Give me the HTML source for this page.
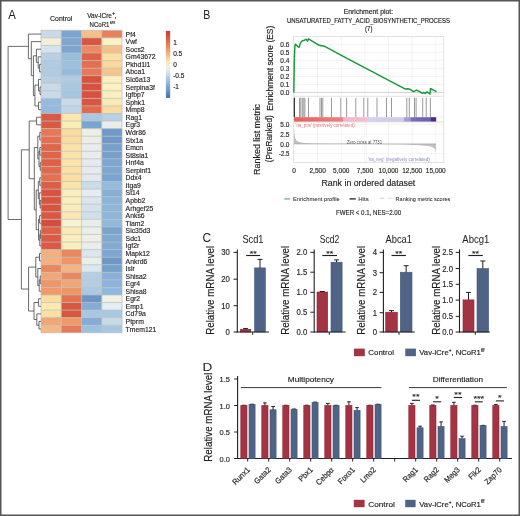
<!DOCTYPE html>
<html><head><meta charset="utf-8"><style>
html,body{margin:0;padding:0;background:#fff;}
svg{display:block;filter:blur(0.3px);}
text{font-family:"Liberation Sans", sans-serif;stroke:#231f20;stroke-width:0.18px;}
</style></head><body>
<svg width="520" height="516" viewBox="0 0 520 516">
<rect x="0" y="0" width="520" height="516" fill="#fff"/>
<text x="8.20" y="19.30" font-size="12.4" fill="#231f20" style="stroke:#231f20;stroke-width:0.04px" textLength="7.61" lengthAdjust="spacingAndGlyphs">A</text>
<text x="50.05" y="20.50" font-size="7.6" fill="#231f20" style="stroke:#231f20;stroke-width:0.16px" textLength="22.30" lengthAdjust="spacingAndGlyphs">Control</text>
<text x="87.3" y="17.9" font-size="7.2" fill="#231f20" textLength="24.6" lengthAdjust="spacingAndGlyphs">Vav-iCre</text>
<text x="112.2" y="15.0" font-size="4.6" fill="#231f20">+</text>
<text x="114.6" y="17.9" font-size="7.2" fill="#231f20">,</text>
<text x="89.6" y="26.9" font-size="7.2" fill="#231f20" textLength="19.8" lengthAdjust="spacingAndGlyphs">NCoR1</text>
<text x="109.9" y="23.6" font-size="4.4" fill="#231f20" textLength="5.0" lengthAdjust="spacingAndGlyphs">f/f</text>
<rect x="41.00" y="30.30" width="20.27" height="7.56" fill="#c8d9e8"/>
<rect x="61.27" y="30.30" width="20.27" height="7.56" fill="#7ca5d0"/>
<rect x="81.54" y="30.30" width="20.27" height="7.56" fill="#f4c08a"/>
<rect x="101.81" y="30.30" width="20.27" height="7.56" fill="#e8805c"/>
<rect x="41.00" y="37.86" width="20.27" height="7.56" fill="#f3efd6"/>
<rect x="61.27" y="37.86" width="20.27" height="7.56" fill="#7ca5d0"/>
<rect x="81.54" y="37.86" width="20.27" height="7.56" fill="#d95540"/>
<rect x="101.81" y="37.86" width="20.27" height="7.56" fill="#f8f2c4"/>
<rect x="41.00" y="45.42" width="20.27" height="7.56" fill="#d5e2ec"/>
<rect x="61.27" y="45.42" width="20.27" height="7.56" fill="#7ca5d0"/>
<rect x="81.54" y="45.42" width="20.27" height="7.56" fill="#eb8a62"/>
<rect x="101.81" y="45.42" width="20.27" height="7.56" fill="#f5c28c"/>
<rect x="41.00" y="52.99" width="20.27" height="7.56" fill="#b8d0e4"/>
<rect x="61.27" y="52.99" width="20.27" height="7.56" fill="#98bede"/>
<rect x="81.54" y="52.99" width="20.27" height="7.56" fill="#e06048"/>
<rect x="101.81" y="52.99" width="20.27" height="7.56" fill="#fbe0a4"/>
<rect x="41.00" y="60.55" width="20.27" height="7.56" fill="#b0cce2"/>
<rect x="61.27" y="60.55" width="20.27" height="7.56" fill="#9cc0de"/>
<rect x="81.54" y="60.55" width="20.27" height="7.56" fill="#e46e50"/>
<rect x="101.81" y="60.55" width="20.27" height="7.56" fill="#fbd99a"/>
<rect x="41.00" y="68.11" width="20.27" height="7.56" fill="#b0cce2"/>
<rect x="61.27" y="68.11" width="20.27" height="7.56" fill="#94bbdc"/>
<rect x="81.54" y="68.11" width="20.27" height="7.56" fill="#e8785a"/>
<rect x="101.81" y="68.11" width="20.27" height="7.56" fill="#f7c48e"/>
<rect x="41.00" y="75.67" width="20.27" height="7.56" fill="#b8d0e4"/>
<rect x="61.27" y="75.67" width="20.27" height="7.56" fill="#b0cce2"/>
<rect x="81.54" y="75.67" width="20.27" height="7.56" fill="#d9503e"/>
<rect x="101.81" y="75.67" width="20.27" height="7.56" fill="#faf0c0"/>
<rect x="41.00" y="83.23" width="20.27" height="7.56" fill="#c8dae8"/>
<rect x="61.27" y="83.23" width="20.27" height="7.56" fill="#a8c8e2"/>
<rect x="81.54" y="83.23" width="20.27" height="7.56" fill="#d8503e"/>
<rect x="101.81" y="83.23" width="20.27" height="7.56" fill="#faf0c0"/>
<rect x="41.00" y="90.80" width="20.27" height="7.56" fill="#cadbe8"/>
<rect x="61.27" y="90.80" width="20.27" height="7.56" fill="#a4c6e0"/>
<rect x="81.54" y="90.80" width="20.27" height="7.56" fill="#d8503e"/>
<rect x="101.81" y="90.80" width="20.27" height="7.56" fill="#faefc0"/>
<rect x="41.00" y="98.36" width="20.27" height="7.56" fill="#94bade"/>
<rect x="61.27" y="98.36" width="20.27" height="7.56" fill="#c8dae8"/>
<rect x="81.54" y="98.36" width="20.27" height="7.56" fill="#d8553f"/>
<rect x="101.81" y="98.36" width="20.27" height="7.56" fill="#faeab4"/>
<rect x="41.00" y="105.92" width="20.27" height="7.56" fill="#94badf"/>
<rect x="61.27" y="105.92" width="20.27" height="7.56" fill="#c0d5e6"/>
<rect x="81.54" y="105.92" width="20.27" height="7.56" fill="#e26a4c"/>
<rect x="101.81" y="105.92" width="20.27" height="7.56" fill="#fbdc9e"/>
<rect x="41.00" y="113.48" width="20.27" height="7.56" fill="#d85a44"/>
<rect x="61.27" y="113.48" width="20.27" height="7.56" fill="#fbe6b0"/>
<rect x="81.54" y="113.48" width="20.27" height="7.56" fill="#a8c8e4"/>
<rect x="101.81" y="113.48" width="20.27" height="7.56" fill="#b8d0e4"/>
<rect x="41.00" y="121.04" width="20.27" height="7.56" fill="#d85a44"/>
<rect x="61.27" y="121.04" width="20.27" height="7.56" fill="#faecb8"/>
<rect x="81.54" y="121.04" width="20.27" height="7.56" fill="#7aa4d0"/>
<rect x="101.81" y="121.04" width="20.27" height="7.56" fill="#ececea"/>
<rect x="41.00" y="128.61" width="20.27" height="7.56" fill="#e67858"/>
<rect x="61.27" y="128.61" width="20.27" height="7.56" fill="#fbdc9e"/>
<rect x="81.54" y="128.61" width="20.27" height="7.56" fill="#eeeee6"/>
<rect x="101.81" y="128.61" width="20.27" height="7.56" fill="#6f9aca"/>
<rect x="41.00" y="136.17" width="20.27" height="7.56" fill="#e47050"/>
<rect x="61.27" y="136.17" width="20.27" height="7.56" fill="#fbdca0"/>
<rect x="81.54" y="136.17" width="20.27" height="7.56" fill="#eceee6"/>
<rect x="101.81" y="136.17" width="20.27" height="7.56" fill="#6e98c8"/>
<rect x="41.00" y="143.73" width="20.27" height="7.56" fill="#e06448"/>
<rect x="61.27" y="143.73" width="20.27" height="7.56" fill="#fbe2aa"/>
<rect x="81.54" y="143.73" width="20.27" height="7.56" fill="#e8ecea"/>
<rect x="101.81" y="143.73" width="20.27" height="7.56" fill="#76a0cc"/>
<rect x="41.00" y="151.29" width="20.27" height="7.56" fill="#e06448"/>
<rect x="61.27" y="151.29" width="20.27" height="7.56" fill="#fbe2aa"/>
<rect x="81.54" y="151.29" width="20.27" height="7.56" fill="#e8ecea"/>
<rect x="101.81" y="151.29" width="20.27" height="7.56" fill="#76a0cc"/>
<rect x="41.00" y="158.85" width="20.27" height="7.56" fill="#de6046"/>
<rect x="61.27" y="158.85" width="20.27" height="7.56" fill="#fbe4ac"/>
<rect x="81.54" y="158.85" width="20.27" height="7.56" fill="#e4eaee"/>
<rect x="101.81" y="158.85" width="20.27" height="7.56" fill="#7ea6d0"/>
<rect x="41.00" y="166.42" width="20.27" height="7.56" fill="#e06a4a"/>
<rect x="61.27" y="166.42" width="20.27" height="7.56" fill="#fbe0a8"/>
<rect x="81.54" y="166.42" width="20.27" height="7.56" fill="#e4eaee"/>
<rect x="101.81" y="166.42" width="20.27" height="7.56" fill="#7ea6d0"/>
<rect x="41.00" y="173.98" width="20.27" height="7.56" fill="#e4704f"/>
<rect x="61.27" y="173.98" width="20.27" height="7.56" fill="#fbdfa2"/>
<rect x="81.54" y="173.98" width="20.27" height="7.56" fill="#e2e8ee"/>
<rect x="101.81" y="173.98" width="20.27" height="7.56" fill="#7aa4d0"/>
<rect x="41.00" y="181.54" width="20.27" height="7.56" fill="#dc5c44"/>
<rect x="61.27" y="181.54" width="20.27" height="7.56" fill="#fbe4aa"/>
<rect x="81.54" y="181.54" width="20.27" height="7.56" fill="#c8dcea"/>
<rect x="101.81" y="181.54" width="20.27" height="7.56" fill="#94bade"/>
<rect x="41.00" y="189.10" width="20.27" height="7.56" fill="#d8543f"/>
<rect x="61.27" y="189.10" width="20.27" height="7.56" fill="#f9efbe"/>
<rect x="81.54" y="189.10" width="20.27" height="7.56" fill="#e6ecee"/>
<rect x="101.81" y="189.10" width="20.27" height="7.56" fill="#86aed6"/>
<rect x="41.00" y="196.66" width="20.27" height="7.56" fill="#d8543f"/>
<rect x="61.27" y="196.66" width="20.27" height="7.56" fill="#f9eebc"/>
<rect x="81.54" y="196.66" width="20.27" height="7.56" fill="#d8e6ee"/>
<rect x="101.81" y="196.66" width="20.27" height="7.56" fill="#8cb4d8"/>
<rect x="41.00" y="204.23" width="20.27" height="7.56" fill="#d8543f"/>
<rect x="61.27" y="204.23" width="20.27" height="7.56" fill="#f9ecbc"/>
<rect x="81.54" y="204.23" width="20.27" height="7.56" fill="#d4e2ec"/>
<rect x="101.81" y="204.23" width="20.27" height="7.56" fill="#8eb6da"/>
<rect x="41.00" y="211.79" width="20.27" height="7.56" fill="#da5842"/>
<rect x="61.27" y="211.79" width="20.27" height="7.56" fill="#fae8b4"/>
<rect x="81.54" y="211.79" width="20.27" height="7.56" fill="#d0e0ea"/>
<rect x="101.81" y="211.79" width="20.27" height="7.56" fill="#8eb6da"/>
<rect x="41.00" y="219.35" width="20.27" height="7.56" fill="#d44e3e"/>
<rect x="61.27" y="219.35" width="20.27" height="7.56" fill="#f6f2d4"/>
<rect x="81.54" y="219.35" width="20.27" height="7.56" fill="#e8ecea"/>
<rect x="101.81" y="219.35" width="20.27" height="7.56" fill="#92b8da"/>
<rect x="41.00" y="226.91" width="20.27" height="7.56" fill="#de6046"/>
<rect x="61.27" y="226.91" width="20.27" height="7.56" fill="#f9eab8"/>
<rect x="81.54" y="226.91" width="20.27" height="7.56" fill="#eaeeea"/>
<rect x="101.81" y="226.91" width="20.27" height="7.56" fill="#7aa4d0"/>
<rect x="41.00" y="234.47" width="20.27" height="7.56" fill="#dc5a44"/>
<rect x="61.27" y="234.47" width="20.27" height="7.56" fill="#f9eebe"/>
<rect x="81.54" y="234.47" width="20.27" height="7.56" fill="#eef0e8"/>
<rect x="101.81" y="234.47" width="20.27" height="7.56" fill="#80a8d0"/>
<rect x="41.00" y="242.04" width="20.27" height="7.56" fill="#dc5a44"/>
<rect x="61.27" y="242.04" width="20.27" height="7.56" fill="#f9eebe"/>
<rect x="81.54" y="242.04" width="20.27" height="7.56" fill="#eaeeea"/>
<rect x="101.81" y="242.04" width="20.27" height="7.56" fill="#82aad2"/>
<rect x="41.00" y="249.60" width="20.27" height="7.56" fill="#f4b080"/>
<rect x="61.27" y="249.60" width="20.27" height="7.56" fill="#ea8660"/>
<rect x="81.54" y="249.60" width="20.27" height="7.56" fill="#dce6ee"/>
<rect x="101.81" y="249.60" width="20.27" height="7.56" fill="#7ea6d0"/>
<rect x="41.00" y="257.16" width="20.27" height="7.56" fill="#f4b080"/>
<rect x="61.27" y="257.16" width="20.27" height="7.56" fill="#ee9468"/>
<rect x="81.54" y="257.16" width="20.27" height="7.56" fill="#eaeee8"/>
<rect x="101.81" y="257.16" width="20.27" height="7.56" fill="#6e98c8"/>
<rect x="41.00" y="264.72" width="20.27" height="7.56" fill="#ea8660"/>
<rect x="61.27" y="264.72" width="20.27" height="7.56" fill="#f4b482"/>
<rect x="81.54" y="264.72" width="20.27" height="7.56" fill="#dce6ee"/>
<rect x="101.81" y="264.72" width="20.27" height="7.56" fill="#76a0cc"/>
<rect x="41.00" y="272.28" width="20.27" height="7.56" fill="#f2a676"/>
<rect x="61.27" y="272.28" width="20.27" height="7.56" fill="#ea8862"/>
<rect x="81.54" y="272.28" width="20.27" height="7.56" fill="#b4cfe4"/>
<rect x="101.81" y="272.28" width="20.27" height="7.56" fill="#88b0d8"/>
<rect x="41.00" y="279.85" width="20.27" height="7.56" fill="#ee9668"/>
<rect x="61.27" y="279.85" width="20.27" height="7.56" fill="#f2a676"/>
<rect x="81.54" y="279.85" width="20.27" height="7.56" fill="#b4cfe4"/>
<rect x="101.81" y="279.85" width="20.27" height="7.56" fill="#8cb4da"/>
<rect x="41.00" y="287.41" width="20.27" height="7.56" fill="#f09a6c"/>
<rect x="61.27" y="287.41" width="20.27" height="7.56" fill="#ee9668"/>
<rect x="81.54" y="287.41" width="20.27" height="7.56" fill="#acc9e2"/>
<rect x="101.81" y="287.41" width="20.27" height="7.56" fill="#90b8dc"/>
<rect x="41.00" y="294.97" width="20.27" height="7.56" fill="#fbde9e"/>
<rect x="61.27" y="294.97" width="20.27" height="7.56" fill="#e47250"/>
<rect x="81.54" y="294.97" width="20.27" height="7.56" fill="#6c96c8"/>
<rect x="101.81" y="294.97" width="20.27" height="7.56" fill="#eff0e6"/>
<rect x="41.00" y="302.53" width="20.27" height="7.56" fill="#faeab2"/>
<rect x="61.27" y="302.53" width="20.27" height="7.56" fill="#d8583f"/>
<rect x="81.54" y="302.53" width="20.27" height="7.56" fill="#84acd4"/>
<rect x="101.81" y="302.53" width="20.27" height="7.56" fill="#e6ecf0"/>
<rect x="41.00" y="310.09" width="20.27" height="7.56" fill="#fbe0a2"/>
<rect x="61.27" y="310.09" width="20.27" height="7.56" fill="#d8583f"/>
<rect x="81.54" y="310.09" width="20.27" height="7.56" fill="#a8c8e2"/>
<rect x="101.81" y="310.09" width="20.27" height="7.56" fill="#a8c8e2"/>
<rect x="41.00" y="317.66" width="20.27" height="7.56" fill="#f2a676"/>
<rect x="61.27" y="317.66" width="20.27" height="7.56" fill="#f09a6a"/>
<rect x="81.54" y="317.66" width="20.27" height="7.56" fill="#84acd6"/>
<rect x="101.81" y="317.66" width="20.27" height="7.56" fill="#c8dae8"/>
<rect x="41.00" y="325.22" width="20.27" height="7.56" fill="#f4b884"/>
<rect x="61.27" y="325.22" width="20.27" height="7.56" fill="#e67a58"/>
<rect x="81.54" y="325.22" width="20.27" height="7.56" fill="#9cc0e0"/>
<rect x="101.81" y="325.22" width="20.27" height="7.56" fill="#a8c8e2"/>
<line x1="41.00" y1="30.30" x2="122.08" y2="30.30" stroke="#bcbcbc" stroke-width="0.7"/>
<line x1="41.00" y1="37.86" x2="122.08" y2="37.86" stroke="#bcbcbc" stroke-width="0.7"/>
<line x1="41.00" y1="45.42" x2="122.08" y2="45.42" stroke="#bcbcbc" stroke-width="0.7"/>
<line x1="41.00" y1="52.99" x2="122.08" y2="52.99" stroke="#bcbcbc" stroke-width="0.7"/>
<line x1="41.00" y1="60.55" x2="122.08" y2="60.55" stroke="#bcbcbc" stroke-width="0.7"/>
<line x1="41.00" y1="68.11" x2="122.08" y2="68.11" stroke="#bcbcbc" stroke-width="0.7"/>
<line x1="41.00" y1="75.67" x2="122.08" y2="75.67" stroke="#bcbcbc" stroke-width="0.7"/>
<line x1="41.00" y1="83.23" x2="122.08" y2="83.23" stroke="#bcbcbc" stroke-width="0.7"/>
<line x1="41.00" y1="90.80" x2="122.08" y2="90.80" stroke="#bcbcbc" stroke-width="0.7"/>
<line x1="41.00" y1="98.36" x2="122.08" y2="98.36" stroke="#bcbcbc" stroke-width="0.7"/>
<line x1="41.00" y1="105.92" x2="122.08" y2="105.92" stroke="#bcbcbc" stroke-width="0.7"/>
<line x1="41.00" y1="113.48" x2="122.08" y2="113.48" stroke="#bcbcbc" stroke-width="0.7"/>
<line x1="41.00" y1="121.04" x2="122.08" y2="121.04" stroke="#bcbcbc" stroke-width="0.7"/>
<line x1="41.00" y1="128.61" x2="122.08" y2="128.61" stroke="#bcbcbc" stroke-width="0.7"/>
<line x1="41.00" y1="136.17" x2="122.08" y2="136.17" stroke="#bcbcbc" stroke-width="0.7"/>
<line x1="41.00" y1="143.73" x2="122.08" y2="143.73" stroke="#bcbcbc" stroke-width="0.7"/>
<line x1="41.00" y1="151.29" x2="122.08" y2="151.29" stroke="#bcbcbc" stroke-width="0.7"/>
<line x1="41.00" y1="158.85" x2="122.08" y2="158.85" stroke="#bcbcbc" stroke-width="0.7"/>
<line x1="41.00" y1="166.42" x2="122.08" y2="166.42" stroke="#bcbcbc" stroke-width="0.7"/>
<line x1="41.00" y1="173.98" x2="122.08" y2="173.98" stroke="#bcbcbc" stroke-width="0.7"/>
<line x1="41.00" y1="181.54" x2="122.08" y2="181.54" stroke="#bcbcbc" stroke-width="0.7"/>
<line x1="41.00" y1="189.10" x2="122.08" y2="189.10" stroke="#bcbcbc" stroke-width="0.7"/>
<line x1="41.00" y1="196.66" x2="122.08" y2="196.66" stroke="#bcbcbc" stroke-width="0.7"/>
<line x1="41.00" y1="204.23" x2="122.08" y2="204.23" stroke="#bcbcbc" stroke-width="0.7"/>
<line x1="41.00" y1="211.79" x2="122.08" y2="211.79" stroke="#bcbcbc" stroke-width="0.7"/>
<line x1="41.00" y1="219.35" x2="122.08" y2="219.35" stroke="#bcbcbc" stroke-width="0.7"/>
<line x1="41.00" y1="226.91" x2="122.08" y2="226.91" stroke="#bcbcbc" stroke-width="0.7"/>
<line x1="41.00" y1="234.47" x2="122.08" y2="234.47" stroke="#bcbcbc" stroke-width="0.7"/>
<line x1="41.00" y1="242.04" x2="122.08" y2="242.04" stroke="#bcbcbc" stroke-width="0.7"/>
<line x1="41.00" y1="249.60" x2="122.08" y2="249.60" stroke="#bcbcbc" stroke-width="0.7"/>
<line x1="41.00" y1="257.16" x2="122.08" y2="257.16" stroke="#bcbcbc" stroke-width="0.7"/>
<line x1="41.00" y1="264.72" x2="122.08" y2="264.72" stroke="#bcbcbc" stroke-width="0.7"/>
<line x1="41.00" y1="272.28" x2="122.08" y2="272.28" stroke="#bcbcbc" stroke-width="0.7"/>
<line x1="41.00" y1="279.85" x2="122.08" y2="279.85" stroke="#bcbcbc" stroke-width="0.7"/>
<line x1="41.00" y1="287.41" x2="122.08" y2="287.41" stroke="#bcbcbc" stroke-width="0.7"/>
<line x1="41.00" y1="294.97" x2="122.08" y2="294.97" stroke="#bcbcbc" stroke-width="0.7"/>
<line x1="41.00" y1="302.53" x2="122.08" y2="302.53" stroke="#bcbcbc" stroke-width="0.7"/>
<line x1="41.00" y1="310.09" x2="122.08" y2="310.09" stroke="#bcbcbc" stroke-width="0.7"/>
<line x1="41.00" y1="317.66" x2="122.08" y2="317.66" stroke="#bcbcbc" stroke-width="0.7"/>
<line x1="41.00" y1="325.22" x2="122.08" y2="325.22" stroke="#bcbcbc" stroke-width="0.7"/>
<line x1="41.00" y1="332.78" x2="122.08" y2="332.78" stroke="#bcbcbc" stroke-width="0.7"/>
<line x1="41.00" y1="30.30" x2="41.00" y2="332.78" stroke="#bcbcbc" stroke-width="0.7"/>
<line x1="61.27" y1="30.30" x2="61.27" y2="332.78" stroke="#bcbcbc" stroke-width="0.7"/>
<line x1="81.54" y1="30.30" x2="81.54" y2="332.78" stroke="#bcbcbc" stroke-width="0.7"/>
<line x1="101.81" y1="30.30" x2="101.81" y2="332.78" stroke="#bcbcbc" stroke-width="0.7"/>
<line x1="122.08" y1="30.30" x2="122.08" y2="332.78" stroke="#bcbcbc" stroke-width="0.7"/>
<text x="125.60" y="36.68" font-size="7.2" fill="#231f20" style="stroke:#231f20;stroke-width:0.16px" textLength="10.27" lengthAdjust="spacingAndGlyphs">Pf4</text>
<text x="125.60" y="44.24" font-size="7.2" fill="#231f20" style="stroke:#231f20;stroke-width:0.16px" textLength="11.40" lengthAdjust="spacingAndGlyphs">Vwf</text>
<text x="125.60" y="51.80" font-size="7.2" fill="#231f20" style="stroke:#231f20;stroke-width:0.16px" textLength="19.01" lengthAdjust="spacingAndGlyphs">Socs2</text>
<text x="125.60" y="59.37" font-size="7.2" fill="#231f20" style="stroke:#231f20;stroke-width:0.16px" textLength="30.04" lengthAdjust="spacingAndGlyphs">Gm43672</text>
<text x="125.60" y="66.93" font-size="7.2" fill="#231f20" style="stroke:#231f20;stroke-width:0.16px" textLength="24.72" lengthAdjust="spacingAndGlyphs">Pkhd1l1</text>
<text x="125.60" y="74.49" font-size="7.2" fill="#231f20" style="stroke:#231f20;stroke-width:0.16px" textLength="19.40" lengthAdjust="spacingAndGlyphs">Abca1</text>
<text x="125.60" y="82.05" font-size="7.2" fill="#231f20" style="stroke:#231f20;stroke-width:0.16px" textLength="24.72" lengthAdjust="spacingAndGlyphs">Slc6a13</text>
<text x="125.60" y="89.61" font-size="7.2" fill="#231f20" style="stroke:#231f20;stroke-width:0.16px" textLength="29.28" lengthAdjust="spacingAndGlyphs">Serpina3f</text>
<text x="125.60" y="97.18" font-size="7.2" fill="#231f20" style="stroke:#231f20;stroke-width:0.16px" textLength="19.02" lengthAdjust="spacingAndGlyphs">Igfbp7</text>
<text x="125.60" y="104.74" font-size="7.2" fill="#231f20" style="stroke:#231f20;stroke-width:0.16px" textLength="19.40" lengthAdjust="spacingAndGlyphs">Sphk1</text>
<text x="125.60" y="112.30" font-size="7.2" fill="#231f20" style="stroke:#231f20;stroke-width:0.16px" textLength="19.00" lengthAdjust="spacingAndGlyphs">Mmp8</text>
<text x="125.60" y="119.86" font-size="7.2" fill="#231f20" style="stroke:#231f20;stroke-width:0.16px" textLength="16.35" lengthAdjust="spacingAndGlyphs">Rag1</text>
<text x="125.60" y="127.42" font-size="7.2" fill="#231f20" style="stroke:#231f20;stroke-width:0.16px" textLength="14.45" lengthAdjust="spacingAndGlyphs">Egr3</text>
<text x="125.60" y="134.99" font-size="7.2" fill="#231f20" style="stroke:#231f20;stroke-width:0.16px" textLength="20.15" lengthAdjust="spacingAndGlyphs">Wdr86</text>
<text x="125.60" y="142.55" font-size="7.2" fill="#231f20" style="stroke:#231f20;stroke-width:0.16px" textLength="17.49" lengthAdjust="spacingAndGlyphs">Stx1a</text>
<text x="125.60" y="150.11" font-size="7.2" fill="#231f20" style="stroke:#231f20;stroke-width:0.16px" textLength="17.48" lengthAdjust="spacingAndGlyphs">Emcn</text>
<text x="125.60" y="157.67" font-size="7.2" fill="#231f20" style="stroke:#231f20;stroke-width:0.16px" textLength="22.82" lengthAdjust="spacingAndGlyphs">St8sia1</text>
<text x="125.60" y="165.24" font-size="7.2" fill="#231f20" style="stroke:#231f20;stroke-width:0.16px" textLength="18.25" lengthAdjust="spacingAndGlyphs">Hnf4a</text>
<text x="125.60" y="172.80" font-size="7.2" fill="#231f20" style="stroke:#231f20;stroke-width:0.16px" textLength="25.48" lengthAdjust="spacingAndGlyphs">Serpinf1</text>
<text x="125.60" y="180.36" font-size="7.2" fill="#231f20" style="stroke:#231f20;stroke-width:0.16px" textLength="15.97" lengthAdjust="spacingAndGlyphs">Ddx4</text>
<text x="125.60" y="187.92" font-size="7.2" fill="#231f20" style="stroke:#231f20;stroke-width:0.16px" textLength="15.21" lengthAdjust="spacingAndGlyphs">Itga9</text>
<text x="125.60" y="195.48" font-size="7.2" fill="#231f20" style="stroke:#231f20;stroke-width:0.16px" textLength="14.07" lengthAdjust="spacingAndGlyphs">St14</text>
<text x="125.60" y="203.05" font-size="7.2" fill="#231f20" style="stroke:#231f20;stroke-width:0.16px" textLength="19.78" lengthAdjust="spacingAndGlyphs">Apbb2</text>
<text x="125.60" y="210.61" font-size="7.2" fill="#231f20" style="stroke:#231f20;stroke-width:0.16px" textLength="27.76" lengthAdjust="spacingAndGlyphs">Arhgef25</text>
<text x="125.60" y="218.17" font-size="7.2" fill="#231f20" style="stroke:#231f20;stroke-width:0.16px" textLength="19.01" lengthAdjust="spacingAndGlyphs">Anks6</text>
<text x="125.60" y="225.73" font-size="7.2" fill="#231f20" style="stroke:#231f20;stroke-width:0.16px" textLength="18.75" lengthAdjust="spacingAndGlyphs">Tiam2</text>
<text x="125.60" y="233.29" font-size="7.2" fill="#231f20" style="stroke:#231f20;stroke-width:0.16px" textLength="24.72" lengthAdjust="spacingAndGlyphs">Slc35d3</text>
<text x="125.60" y="240.86" font-size="7.2" fill="#231f20" style="stroke:#231f20;stroke-width:0.16px" textLength="15.59" lengthAdjust="spacingAndGlyphs">Sdc1</text>
<text x="125.60" y="248.42" font-size="7.2" fill="#231f20" style="stroke:#231f20;stroke-width:0.16px" textLength="13.69" lengthAdjust="spacingAndGlyphs">Igf2r</text>
<text x="125.60" y="255.98" font-size="7.2" fill="#231f20" style="stroke:#231f20;stroke-width:0.16px" textLength="24.33" lengthAdjust="spacingAndGlyphs">Mapk12</text>
<text x="125.60" y="263.54" font-size="7.2" fill="#231f20" style="stroke:#231f20;stroke-width:0.16px" textLength="21.67" lengthAdjust="spacingAndGlyphs">Ankrd6</text>
<text x="125.60" y="271.10" font-size="7.2" fill="#231f20" style="stroke:#231f20;stroke-width:0.16px" textLength="9.12" lengthAdjust="spacingAndGlyphs">Islr</text>
<text x="125.60" y="278.67" font-size="7.2" fill="#231f20" style="stroke:#231f20;stroke-width:0.16px" textLength="20.91" lengthAdjust="spacingAndGlyphs">Shisa2</text>
<text x="125.60" y="286.23" font-size="7.2" fill="#231f20" style="stroke:#231f20;stroke-width:0.16px" textLength="14.45" lengthAdjust="spacingAndGlyphs">Egr4</text>
<text x="125.60" y="293.79" font-size="7.2" fill="#231f20" style="stroke:#231f20;stroke-width:0.16px" textLength="20.91" lengthAdjust="spacingAndGlyphs">Shisa8</text>
<text x="125.60" y="301.35" font-size="7.2" fill="#231f20" style="stroke:#231f20;stroke-width:0.16px" textLength="14.45" lengthAdjust="spacingAndGlyphs">Egr2</text>
<text x="125.60" y="308.91" font-size="7.2" fill="#231f20" style="stroke:#231f20;stroke-width:0.16px" textLength="17.87" lengthAdjust="spacingAndGlyphs">Emp1</text>
<text x="125.60" y="316.48" font-size="7.2" fill="#231f20" style="stroke:#231f20;stroke-width:0.16px" textLength="20.16" lengthAdjust="spacingAndGlyphs">Cd79a</text>
<text x="125.60" y="324.04" font-size="7.2" fill="#231f20" style="stroke:#231f20;stroke-width:0.16px" textLength="18.24" lengthAdjust="spacingAndGlyphs">Ptprm</text>
<text x="125.60" y="331.60" font-size="7.2" fill="#231f20" style="stroke:#231f20;stroke-width:0.16px" textLength="30.79" lengthAdjust="spacingAndGlyphs">Tmem121</text>
<path d="M28.40,34.08L41.00,34.08M31.30,41.64L41.00,41.64M36.40,49.20L41.00,49.20M38.20,56.77L41.00,56.77M39.60,64.33L41.00,64.33M39.60,71.89L41.00,71.89M39.60,64.33L39.60,71.89M38.20,68.11L39.60,68.11M38.20,56.77L38.20,68.11M36.40,62.44L38.20,62.44M36.40,49.20L36.40,62.44M33.40,55.82L36.40,55.82M38.50,79.45L41.00,79.45M40.00,87.02L41.00,87.02M40.00,94.58L41.00,94.58M40.00,87.02L40.00,94.58M38.50,90.80L40.00,90.80M38.50,79.45L38.50,90.80M34.90,85.12L38.50,85.12M38.50,102.14L41.00,102.14M38.50,109.70L41.00,109.70M38.50,102.14L38.50,109.70M34.90,105.92L38.50,105.92M34.90,85.12L34.90,105.92M33.40,95.52L34.90,95.52M33.40,55.82L33.40,95.52M31.30,75.67L33.40,75.67M31.30,41.64L31.30,75.67M28.40,58.66L31.30,58.66M28.40,34.08L28.40,58.66M8.10,46.37L28.40,46.37M36.60,117.26L41.00,117.26M36.60,124.83L41.00,124.83M36.60,117.26L36.60,124.83M29.20,121.04L36.60,121.04M39.80,132.39L41.00,132.39M39.80,139.95L41.00,139.95M39.80,132.39L39.80,139.95M37.80,136.17L39.80,136.17M39.80,147.51L41.00,147.51M39.80,155.07L41.00,155.07M39.80,147.51L39.80,155.07M39.00,151.29L39.80,151.29M40.20,162.64L41.00,162.64M40.20,170.20L41.00,170.20M40.20,162.64L40.20,170.20M39.00,166.42L40.20,166.42M39.00,151.29L39.00,166.42M37.80,158.85L39.00,158.85M37.80,136.17L37.80,158.85M34.30,147.51L37.80,147.51M39.80,177.76L41.00,177.76M39.80,185.32L41.00,185.32M39.80,177.76L39.80,185.32M38.30,181.54L39.80,181.54M39.30,192.88L41.00,192.88M40.20,200.45L41.00,200.45M40.20,208.01L41.00,208.01M40.20,200.45L40.20,208.01M39.30,204.23L40.20,204.23M39.30,192.88L39.30,204.23M38.30,198.55L39.30,198.55M38.30,181.54L38.30,198.55M36.20,190.05L38.30,190.05M39.60,215.57L41.00,215.57M39.60,223.13L41.00,223.13M39.60,215.57L39.60,223.13M38.60,219.35L39.60,219.35M40.30,230.69L41.00,230.69M40.30,238.26L41.00,238.26M40.30,230.69L40.30,238.26M39.80,234.47L40.30,234.47M39.80,245.82L41.00,245.82M39.80,234.47L39.80,245.82M38.60,240.15L39.80,240.15M38.60,219.35L38.60,240.15M36.20,229.75L38.60,229.75M36.20,190.05L36.20,229.75M34.30,209.90L36.20,209.90M34.30,147.51L34.30,209.90M29.20,178.70L34.30,178.70M29.20,121.04L29.20,178.70M21.40,149.87L29.20,149.87M39.50,253.38L41.00,253.38M39.50,260.94L41.00,260.94M39.50,253.38L39.50,260.94M35.80,257.16L39.50,257.16M37.80,268.50L41.00,268.50M40.20,276.06L41.00,276.06M40.20,283.63L41.00,283.63M40.20,276.06L40.20,283.63M39.20,279.85L40.20,279.85M39.20,291.19L41.00,291.19M39.20,279.85L39.20,291.19M37.80,285.52L39.20,285.52M37.80,268.50L37.80,285.52M35.80,277.01L37.80,277.01M35.80,257.16L35.80,277.01M28.60,267.09L35.80,267.09M38.60,298.75L41.00,298.75M38.60,306.31L41.00,306.31M38.60,298.75L38.60,306.31M34.00,302.53L38.60,302.53M36.80,313.88L41.00,313.88M39.00,321.44L41.00,321.44M39.00,329.00L41.00,329.00M39.00,321.44L39.00,329.00M36.80,325.22L39.00,325.22M36.80,313.88L36.80,325.22M34.00,319.55L36.80,319.55M34.00,302.53L34.00,319.55M28.60,311.04L34.00,311.04M28.60,267.09L28.60,311.04M21.40,289.06L28.60,289.06M21.40,149.87L21.40,289.06M8.10,219.47L21.40,219.47M8.10,46.37L8.10,219.47" stroke="#3a3a3a" stroke-width="0.75" fill="none"/>
<defs><linearGradient id="cb" x1="0" y1="0" x2="0" y2="1">
<stop offset="0" stop-color="#c0403a"/>
<stop offset="0.10" stop-color="#d45a46"/>
<stop offset="0.22" stop-color="#e8845c"/>
<stop offset="0.33" stop-color="#f4b07a"/>
<stop offset="0.42" stop-color="#f8d898"/>
<stop offset="0.47" stop-color="#f8ecbc"/>
<stop offset="0.54" stop-color="#eef0e4"/>
<stop offset="0.62" stop-color="#d4e4ee"/>
<stop offset="0.72" stop-color="#a8c8e0"/>
<stop offset="0.85" stop-color="#78a2cc"/>
<stop offset="1" stop-color="#4872ac"/>
</linearGradient></defs>
<rect x="165.90" y="30.90" width="4.30" height="67.00" fill="url(#cb)"/>
<text x="173.20" y="44.60" font-size="7.0" fill="#231f20" style="stroke:#231f20;stroke-width:0.16px" textLength="3.62" lengthAdjust="spacingAndGlyphs">1</text>
<text x="173.20" y="55.70" font-size="7.0" fill="#231f20" style="stroke:#231f20;stroke-width:0.16px" textLength="9.05" lengthAdjust="spacingAndGlyphs">0.5</text>
<text x="173.20" y="66.70" font-size="7.0" fill="#231f20" style="stroke:#231f20;stroke-width:0.16px" textLength="3.62" lengthAdjust="spacingAndGlyphs">0</text>
<text x="173.20" y="77.90" font-size="7.0" fill="#231f20" style="stroke:#231f20;stroke-width:0.16px" textLength="11.22" lengthAdjust="spacingAndGlyphs">-0.5</text>
<text x="173.20" y="89.10" font-size="7.0" fill="#231f20" style="stroke:#231f20;stroke-width:0.16px" textLength="5.79" lengthAdjust="spacingAndGlyphs">-1</text>
<text x="203.20" y="19.00" font-size="12.4" fill="#231f20" style="stroke:#231f20;stroke-width:0.04px" textLength="7.03" lengthAdjust="spacingAndGlyphs">B</text>
<text x="343.75" y="14.00" font-size="6.7" fill="#231f20" style="stroke:#231f20;stroke-width:0.16px" textLength="49.30" lengthAdjust="spacingAndGlyphs">Enrichment plot:</text>
<text x="286.90" y="22.80" font-size="6.7" fill="#231f20" style="stroke:#231f20;stroke-width:0.16px" textLength="163.00" lengthAdjust="spacingAndGlyphs">UNSATURATED_FATTY_ACID_BIOSYNTHETIC_PROCESS</text>
<text x="365.12" y="31.20" font-size="7.0" fill="#231f20" style="stroke:#231f20;stroke-width:0.16px" textLength="7.36" lengthAdjust="spacingAndGlyphs">(7)</text>
<line x1="293.70" y1="84.47" x2="443.80" y2="84.47" stroke="#ebebeb" stroke-width="0.6"/>
<line x1="293.70" y1="76.44" x2="443.80" y2="76.44" stroke="#ebebeb" stroke-width="0.6"/>
<line x1="293.70" y1="68.41" x2="443.80" y2="68.41" stroke="#ebebeb" stroke-width="0.6"/>
<line x1="293.70" y1="60.38" x2="443.80" y2="60.38" stroke="#ebebeb" stroke-width="0.6"/>
<line x1="293.70" y1="52.35" x2="443.80" y2="52.35" stroke="#ebebeb" stroke-width="0.6"/>
<line x1="293.70" y1="44.32" x2="443.80" y2="44.32" stroke="#ebebeb" stroke-width="0.6"/>
<line x1="317.63" y1="36.40" x2="317.63" y2="96.60" stroke="#ebebeb" stroke-width="0.6"/>
<line x1="341.27" y1="36.40" x2="341.27" y2="96.60" stroke="#ebebeb" stroke-width="0.6"/>
<line x1="364.90" y1="36.40" x2="364.90" y2="96.60" stroke="#ebebeb" stroke-width="0.6"/>
<line x1="388.53" y1="36.40" x2="388.53" y2="96.60" stroke="#ebebeb" stroke-width="0.6"/>
<line x1="412.17" y1="36.40" x2="412.17" y2="96.60" stroke="#ebebeb" stroke-width="0.6"/>
<line x1="435.80" y1="36.40" x2="435.80" y2="96.60" stroke="#ebebeb" stroke-width="0.6"/>
<line x1="293.70" y1="92.50" x2="443.80" y2="92.50" stroke="#d2c8c8" stroke-width="0.8"/>
<rect x="293.7" y="36.4" width="150.10" height="59.8" fill="none" stroke="#d8d8d8" stroke-width="0.7"/>
<text x="280.30" y="95.20" font-size="7.5" fill="#231f20" style="stroke:#231f20;stroke-width:0.16px" textLength="9.00" lengthAdjust="spacingAndGlyphs">0.0</text>
<text x="280.30" y="87.17" font-size="7.5" fill="#231f20" style="stroke:#231f20;stroke-width:0.16px" textLength="9.00" lengthAdjust="spacingAndGlyphs">0.1</text>
<text x="280.30" y="79.14" font-size="7.5" fill="#231f20" style="stroke:#231f20;stroke-width:0.16px" textLength="9.00" lengthAdjust="spacingAndGlyphs">0.2</text>
<text x="280.30" y="71.11" font-size="7.5" fill="#231f20" style="stroke:#231f20;stroke-width:0.16px" textLength="9.00" lengthAdjust="spacingAndGlyphs">0.3</text>
<text x="280.30" y="63.08" font-size="7.5" fill="#231f20" style="stroke:#231f20;stroke-width:0.16px" textLength="9.00" lengthAdjust="spacingAndGlyphs">0.4</text>
<text x="280.30" y="55.05" font-size="7.5" fill="#231f20" style="stroke:#231f20;stroke-width:0.16px" textLength="9.00" lengthAdjust="spacingAndGlyphs">0.5</text>
<text x="280.30" y="47.02" font-size="7.5" fill="#231f20" style="stroke:#231f20;stroke-width:0.16px" textLength="9.00" lengthAdjust="spacingAndGlyphs">0.6</text>
<polyline points="293.80,92.50 294.30,62.00 294.80,47.00 295.30,44.30 296.50,45.20 297.50,46.30 299.00,47.30 299.80,45.00 300.50,43.00 301.50,41.30 302.50,40.80 303.50,40.50 304.50,40.20 305.50,39.50 306.30,39.30 307.50,41.10 308.50,38.80 319.20,45.30 324.20,46.20 331.20,49.90 340.40,54.90 405.40,89.10 407.10,88.70 410.10,89.30 413.60,91.70 416.60,90.20 419.70,91.70 422.20,93.40 423.50,92.50 425.30,93.40 427.00,91.90 430.00,94.00 430.50,88.50 433.10,89.90 436.50,91.70" fill="none" stroke="#17983a" stroke-width="1.45" stroke-linejoin="round"/>
<line x1="293.70" y1="96.20" x2="293.70" y2="122.00" stroke="#d8d8d8" stroke-width="0.7"/>
<line x1="443.80" y1="96.20" x2="443.80" y2="122.00" stroke="#d8d8d8" stroke-width="0.7"/>
<line x1="436.20" y1="117.20" x2="443.80" y2="117.20" stroke="#e0e0e0" stroke-width="0.6"/>
<line x1="294.30" y1="97.80" x2="294.30" y2="117.20" stroke="#111" stroke-width="1.1"/>
<line x1="299.50" y1="97.80" x2="299.50" y2="117.20" stroke="#949494" stroke-width="0.95"/>
<line x1="300.80" y1="97.80" x2="300.80" y2="117.20" stroke="#949494" stroke-width="0.95"/>
<line x1="302.30" y1="97.80" x2="302.30" y2="117.20" stroke="#949494" stroke-width="0.95"/>
<line x1="303.80" y1="97.80" x2="303.80" y2="117.20" stroke="#949494" stroke-width="0.95"/>
<line x1="304.90" y1="97.80" x2="304.90" y2="117.20" stroke="#949494" stroke-width="0.95"/>
<line x1="308.50" y1="97.80" x2="308.50" y2="117.20" stroke="#949494" stroke-width="0.95"/>
<line x1="320.00" y1="97.80" x2="320.00" y2="117.20" stroke="#949494" stroke-width="0.95"/>
<line x1="321.50" y1="97.80" x2="321.50" y2="117.20" stroke="#949494" stroke-width="0.95"/>
<line x1="322.80" y1="97.80" x2="322.80" y2="117.20" stroke="#949494" stroke-width="0.95"/>
<line x1="331.50" y1="97.80" x2="331.50" y2="117.20" stroke="#949494" stroke-width="0.95"/>
<line x1="340.80" y1="97.80" x2="340.80" y2="117.20" stroke="#949494" stroke-width="0.95"/>
<line x1="346.60" y1="97.80" x2="346.60" y2="117.20" stroke="#949494" stroke-width="0.95"/>
<line x1="355.80" y1="97.80" x2="355.80" y2="117.20" stroke="#949494" stroke-width="0.95"/>
<line x1="363.80" y1="97.80" x2="363.80" y2="117.20" stroke="#949494" stroke-width="0.95"/>
<line x1="367.80" y1="97.80" x2="367.80" y2="117.20" stroke="#949494" stroke-width="0.95"/>
<line x1="377.00" y1="97.80" x2="377.00" y2="117.20" stroke="#949494" stroke-width="0.95"/>
<line x1="386.50" y1="97.80" x2="386.50" y2="117.20" stroke="#949494" stroke-width="0.95"/>
<line x1="391.50" y1="97.80" x2="391.50" y2="117.20" stroke="#949494" stroke-width="0.95"/>
<line x1="406.80" y1="97.80" x2="406.80" y2="117.20" stroke="#949494" stroke-width="0.95"/>
<line x1="409.30" y1="97.80" x2="409.30" y2="117.20" stroke="#949494" stroke-width="0.95"/>
<line x1="414.50" y1="97.80" x2="414.50" y2="117.20" stroke="#949494" stroke-width="0.95"/>
<line x1="416.10" y1="97.80" x2="416.10" y2="117.20" stroke="#949494" stroke-width="0.95"/>
<line x1="422.70" y1="97.80" x2="422.70" y2="117.20" stroke="#949494" stroke-width="0.95"/>
<line x1="426.20" y1="97.80" x2="426.20" y2="117.20" stroke="#949494" stroke-width="0.95"/>
<line x1="430.40" y1="97.80" x2="430.40" y2="117.20" stroke="#949494" stroke-width="0.95"/>
<defs><linearGradient id="rk" x1="0" y1="0" x2="1" y2="0">
<stop offset="0" stop-color="#e45e5e"/>
<stop offset="0.15" stop-color="#ea6c6c"/>
<stop offset="0.344" stop-color="#ee8080"/>
<stop offset="0.345" stop-color="#f2b6cc"/>
<stop offset="0.51" stop-color="#f2bcd2"/>
<stop offset="0.513" stop-color="#d8d2ec"/>
<stop offset="0.772" stop-color="#d0c8e8"/>
<stop offset="0.775" stop-color="#a8a0d4"/>
<stop offset="0.823" stop-color="#9c92cc"/>
<stop offset="0.826" stop-color="#7a6cb8"/>
<stop offset="0.963" stop-color="#6c5cb0"/>
<stop offset="0.966" stop-color="#4a2a8a"/>
<stop offset="1" stop-color="#48288a"/>
</linearGradient></defs>
<rect x="294.00" y="117.20" width="142.20" height="4.60" fill="url(#rk)"/>
<line x1="293.70" y1="124.40" x2="443.80" y2="124.40" stroke="#ebebeb" stroke-width="0.6"/>
<line x1="293.70" y1="134.15" x2="443.80" y2="134.15" stroke="#ebebeb" stroke-width="0.6"/>
<line x1="293.70" y1="153.65" x2="443.80" y2="153.65" stroke="#ebebeb" stroke-width="0.6"/>
<line x1="317.63" y1="122.00" x2="317.63" y2="162.50" stroke="#ebebeb" stroke-width="0.6"/>
<line x1="341.27" y1="122.00" x2="341.27" y2="162.50" stroke="#ebebeb" stroke-width="0.6"/>
<line x1="364.90" y1="122.00" x2="364.90" y2="162.50" stroke="#ebebeb" stroke-width="0.6"/>
<line x1="388.53" y1="122.00" x2="388.53" y2="162.50" stroke="#ebebeb" stroke-width="0.6"/>
<line x1="412.17" y1="122.00" x2="412.17" y2="162.50" stroke="#ebebeb" stroke-width="0.6"/>
<line x1="435.80" y1="122.00" x2="435.80" y2="162.50" stroke="#ebebeb" stroke-width="0.6"/>
<rect x="293.7" y="122.0" width="150.10" height="40.5" fill="none" stroke="#d4d4d4" stroke-width="0.7"/>
<polygon points="294.00,143.90 294.00,128.00 294.50,134.00 295.20,138.00 296.50,140.50 298.50,141.80 301.00,142.50 305.00,143.00 312.00,143.40 325.00,143.70 345.00,143.85 366.60,143.90" fill="#c4c0c0"/>
<polygon points="366.60,143.90 385.00,144.20 405.00,144.60 420.00,145.20 428.00,146.00 432.00,147.00 434.50,148.50 435.50,150.50 436.00,152.00 436.00,143.90" fill="#c4c0c0"/>
<line x1="293.70" y1="143.90" x2="436.00" y2="143.90" stroke="#a8a4a4" stroke-width="0.7"/>
<line x1="366.60" y1="122.20" x2="366.60" y2="162.30" stroke="#e6dde0" stroke-width="0.7" stroke-dasharray="1,1"/>
<text x="280.30" y="127.10" font-size="7.5" fill="#231f20" style="stroke:#231f20;stroke-width:0.16px" textLength="9.00" lengthAdjust="spacingAndGlyphs">5.0</text>
<text x="280.30" y="136.85" font-size="7.5" fill="#231f20" style="stroke:#231f20;stroke-width:0.16px" textLength="9.00" lengthAdjust="spacingAndGlyphs">2.5</text>
<text x="280.30" y="146.60" font-size="7.5" fill="#231f20" style="stroke:#231f20;stroke-width:0.16px" textLength="9.00" lengthAdjust="spacingAndGlyphs">0.0</text>
<text x="278.90" y="156.35" font-size="7.5" fill="#231f20" style="stroke:#231f20;stroke-width:0.16px" textLength="10.40" lengthAdjust="spacingAndGlyphs">-2.5</text>
<text x="295.60" y="126.90" font-size="4.6" fill="#e47a7a" style="stroke:#e47a7a;stroke-width:0px" textLength="59.00" lengthAdjust="spacingAndGlyphs">'na_pos' (positively correlated)</text>
<text x="347.00" y="144.00" font-size="4.6" fill="#555" style="stroke:#555;stroke-width:0px" textLength="35.00" lengthAdjust="spacingAndGlyphs">Zero cross at 7731</text>
<text x="367.80" y="160.80" font-size="4.6" fill="#8a8ac8" style="stroke:#8a8ac8;stroke-width:0px" textLength="62.00" lengthAdjust="spacingAndGlyphs">'na_neg' (negatively correlated)</text>
<text x="292.19" y="173.00" font-size="7.4" fill="#231f20" style="stroke:#231f20;stroke-width:0.16px" textLength="3.62" lengthAdjust="spacingAndGlyphs">0</text>
<text x="309.49" y="173.00" font-size="7.4" fill="#231f20" style="stroke:#231f20;stroke-width:0.16px" textLength="16.30" lengthAdjust="spacingAndGlyphs">2,500</text>
<text x="333.12" y="173.00" font-size="7.4" fill="#231f20" style="stroke:#231f20;stroke-width:0.16px" textLength="16.30" lengthAdjust="spacingAndGlyphs">5,000</text>
<text x="356.75" y="173.00" font-size="7.4" fill="#231f20" style="stroke:#231f20;stroke-width:0.16px" textLength="16.30" lengthAdjust="spacingAndGlyphs">7,500</text>
<text x="378.57" y="173.00" font-size="7.4" fill="#231f20" style="stroke:#231f20;stroke-width:0.16px" textLength="19.92" lengthAdjust="spacingAndGlyphs">10,000</text>
<text x="402.21" y="173.00" font-size="7.4" fill="#231f20" style="stroke:#231f20;stroke-width:0.16px" textLength="19.92" lengthAdjust="spacingAndGlyphs">12,500</text>
<text x="425.84" y="173.00" font-size="7.4" fill="#231f20" style="stroke:#231f20;stroke-width:0.16px" textLength="19.92" lengthAdjust="spacingAndGlyphs">15,000</text>
<text x="321.50" y="186.10" font-size="8.6" fill="#231f20" style="stroke:#231f20;stroke-width:0.16px" textLength="93.80" lengthAdjust="spacingAndGlyphs">Rank in ordered dataset</text>
<text x="0" y="0" font-size="8.5" fill="#231f20" textLength="85.00" lengthAdjust="spacingAndGlyphs" text-anchor="start" transform="translate(273.40 110.70) rotate(-90)">Enrichment score (ES)</text>
<text x="0" y="0" font-size="8.8" fill="#231f20" textLength="71.00" lengthAdjust="spacingAndGlyphs" text-anchor="start" transform="translate(260.00 174.90) rotate(-90)">Ranked list metric</text>
<text x="0" y="0" font-size="8.8" fill="#231f20" textLength="47.00" lengthAdjust="spacingAndGlyphs" text-anchor="start" transform="translate(271.60 162.20) rotate(-90)">(PreRanked)</text>
<line x1="284.30" y1="198.90" x2="290.00" y2="198.90" stroke="#60b060" stroke-width="1.2"/>
<text x="293.00" y="200.60" font-size="5.6" fill="#231f20" style="stroke:#231f20;stroke-width:0.04px" textLength="46.70" lengthAdjust="spacingAndGlyphs">Enrichment profile</text>
<line x1="349.50" y1="198.90" x2="355.80" y2="198.90" stroke="#222" stroke-width="1.3"/>
<text x="358.20" y="200.60" font-size="5.6" fill="#231f20" style="stroke:#231f20;stroke-width:0.04px" textLength="10.50" lengthAdjust="spacingAndGlyphs">Hits</text>
<line x1="379.50" y1="198.20" x2="384.40" y2="198.20" stroke="#cfcfcf" stroke-width="1.0"/>
<line x1="387.30" y1="198.20" x2="392.50" y2="198.20" stroke="#dcdcdc" stroke-width="1.0"/>
<text x="395.60" y="200.60" font-size="5.6" fill="#231f20" style="stroke:#231f20;stroke-width:0.04px" textLength="54.80" lengthAdjust="spacingAndGlyphs">Ranking metric scores</text>
<text x="336.10" y="215.30" font-size="7.0" fill="#231f20" style="stroke:#231f20;stroke-width:0.16px" textLength="65.00" lengthAdjust="spacingAndGlyphs">FWER &lt; 0.1, NES=2.00</text>
<text x="202.50" y="242.30" font-size="12.2" fill="#231f20" style="stroke:#231f20;stroke-width:0.04px" textLength="8.60" lengthAdjust="spacingAndGlyphs">C</text>
<text x="242.40" y="243.10" font-size="10.4" fill="#231f20" style="stroke:#231f20;stroke-width:0.04px" textLength="21.00" lengthAdjust="spacingAndGlyphs">Scd1</text>
<text x="0" y="0" font-size="10.8" fill="#231f20" textLength="89.00" lengthAdjust="spacingAndGlyphs" text-anchor="start" transform="translate(213.90 334.80) rotate(-90)">Relative mRNA level</text>
<rect x="240.30" y="329.30" width="10.50" height="2.70" fill="#a33444" stroke="#951f33" stroke-width="0.6"/>
<rect x="254.60" y="267.90" width="10.80" height="64.10" fill="#4e6385" stroke="#405a80" stroke-width="0.6"/>
<line x1="245.55" y1="329.30" x2="245.55" y2="328.60" stroke="#231f20" stroke-width="1.0"/>
<line x1="243.05" y1="328.60" x2="248.05" y2="328.60" stroke="#231f20" stroke-width="1.0"/>
<line x1="260.00" y1="267.90" x2="260.00" y2="259.40" stroke="#231f20" stroke-width="1.0"/>
<line x1="257.50" y1="259.40" x2="262.50" y2="259.40" stroke="#231f20" stroke-width="1.0"/>
<line x1="237.30" y1="249.40" x2="237.30" y2="332.50" stroke="#231f20" stroke-width="1.1"/>
<line x1="236.80" y1="332.00" x2="269.00" y2="332.00" stroke="#231f20" stroke-width="1.1"/>
<line x1="252.70" y1="332.00" x2="252.70" y2="334.80" stroke="#231f20" stroke-width="1.0"/>
<line x1="233.50" y1="252.40" x2="237.30" y2="252.40" stroke="#231f20" stroke-width="1.0"/>
<text x="221.30" y="255.45" font-size="8.5" fill="#231f20" style="stroke:#231f20;stroke-width:0.16px" textLength="8.60" lengthAdjust="spacingAndGlyphs">30</text>
<line x1="233.50" y1="279.20" x2="237.30" y2="279.20" stroke="#231f20" stroke-width="1.0"/>
<text x="221.30" y="282.25" font-size="8.5" fill="#231f20" style="stroke:#231f20;stroke-width:0.16px" textLength="8.60" lengthAdjust="spacingAndGlyphs">20</text>
<line x1="233.50" y1="305.70" x2="237.30" y2="305.70" stroke="#231f20" stroke-width="1.0"/>
<text x="221.30" y="308.75" font-size="8.5" fill="#231f20" style="stroke:#231f20;stroke-width:0.16px" textLength="8.60" lengthAdjust="spacingAndGlyphs">10</text>
<line x1="233.50" y1="332.00" x2="237.30" y2="332.00" stroke="#231f20" stroke-width="1.0"/>
<text x="225.60" y="335.05" font-size="8.5" fill="#231f20" style="stroke:#231f20;stroke-width:0.16px" textLength="4.30" lengthAdjust="spacingAndGlyphs">0</text>
<line x1="246.20" y1="255.50" x2="260.10" y2="255.50" stroke="#231f20" stroke-width="1.15"/>
<text x="249.65" y="255.90" font-size="8.0" fill="#231f20" style="stroke:#231f20;stroke-width:0.16px" textLength="7.00" lengthAdjust="spacingAndGlyphs">**</text>
<text x="319.75" y="243.10" font-size="10.4" fill="#231f20" style="stroke:#231f20;stroke-width:0.04px" textLength="19.50" lengthAdjust="spacingAndGlyphs">Scd2</text>
<text x="0" y="0" font-size="10.8" fill="#231f20" textLength="89.00" lengthAdjust="spacingAndGlyphs" text-anchor="start" transform="translate(288.90 334.80) rotate(-90)">Relative mRNA level</text>
<rect x="317.00" y="292.00" width="10.70" height="40.00" fill="#a33444" stroke="#951f33" stroke-width="0.6"/>
<rect x="331.00" y="262.20" width="11.10" height="69.80" fill="#4e6385" stroke="#405a80" stroke-width="0.6"/>
<line x1="322.35" y1="292.00" x2="322.35" y2="291.50" stroke="#231f20" stroke-width="1.0"/>
<line x1="319.85" y1="291.50" x2="324.85" y2="291.50" stroke="#231f20" stroke-width="1.0"/>
<line x1="336.55" y1="262.20" x2="336.55" y2="259.90" stroke="#231f20" stroke-width="1.0"/>
<line x1="334.05" y1="259.90" x2="339.05" y2="259.90" stroke="#231f20" stroke-width="1.0"/>
<line x1="314.20" y1="249.40" x2="314.20" y2="332.50" stroke="#231f20" stroke-width="1.1"/>
<line x1="313.70" y1="332.00" x2="345.60" y2="332.00" stroke="#231f20" stroke-width="1.1"/>
<line x1="329.30" y1="332.00" x2="329.30" y2="334.80" stroke="#231f20" stroke-width="1.0"/>
<line x1="310.40" y1="252.40" x2="314.20" y2="252.40" stroke="#231f20" stroke-width="1.0"/>
<text x="296.45" y="255.45" font-size="8.5" fill="#231f20" style="stroke:#231f20;stroke-width:0.16px" textLength="10.75" lengthAdjust="spacingAndGlyphs">2.0</text>
<line x1="310.40" y1="272.20" x2="314.20" y2="272.20" stroke="#231f20" stroke-width="1.0"/>
<text x="296.45" y="275.25" font-size="8.5" fill="#231f20" style="stroke:#231f20;stroke-width:0.16px" textLength="10.75" lengthAdjust="spacingAndGlyphs">1.5</text>
<line x1="310.40" y1="292.40" x2="314.20" y2="292.40" stroke="#231f20" stroke-width="1.0"/>
<text x="296.45" y="295.45" font-size="8.5" fill="#231f20" style="stroke:#231f20;stroke-width:0.16px" textLength="10.75" lengthAdjust="spacingAndGlyphs">1.0</text>
<line x1="310.40" y1="312.20" x2="314.20" y2="312.20" stroke="#231f20" stroke-width="1.0"/>
<text x="296.45" y="315.25" font-size="8.5" fill="#231f20" style="stroke:#231f20;stroke-width:0.16px" textLength="10.75" lengthAdjust="spacingAndGlyphs">0.5</text>
<line x1="310.40" y1="332.00" x2="314.20" y2="332.00" stroke="#231f20" stroke-width="1.0"/>
<text x="296.45" y="335.05" font-size="8.5" fill="#231f20" style="stroke:#231f20;stroke-width:0.16px" textLength="10.75" lengthAdjust="spacingAndGlyphs">0.0</text>
<line x1="322.30" y1="255.50" x2="337.00" y2="255.50" stroke="#231f20" stroke-width="1.15"/>
<text x="326.15" y="255.90" font-size="8.0" fill="#231f20" style="stroke:#231f20;stroke-width:0.16px" textLength="7.00" lengthAdjust="spacingAndGlyphs">**</text>
<text x="385.50" y="243.10" font-size="10.4" fill="#231f20" style="stroke:#231f20;stroke-width:0.04px" textLength="26.40" lengthAdjust="spacingAndGlyphs">Abca1</text>
<text x="0" y="0" font-size="10.8" fill="#231f20" textLength="89.00" lengthAdjust="spacingAndGlyphs" text-anchor="start" transform="translate(365.00 334.80) rotate(-90)">Relative mRNA level</text>
<rect x="385.70" y="312.20" width="11.60" height="19.80" fill="#a33444" stroke="#951f33" stroke-width="0.6"/>
<rect x="400.30" y="272.20" width="11.70" height="59.80" fill="#4e6385" stroke="#405a80" stroke-width="0.6"/>
<line x1="391.50" y1="312.20" x2="391.50" y2="310.60" stroke="#231f20" stroke-width="1.0"/>
<line x1="389.00" y1="310.60" x2="394.00" y2="310.60" stroke="#231f20" stroke-width="1.0"/>
<line x1="406.15" y1="272.20" x2="406.15" y2="265.70" stroke="#231f20" stroke-width="1.0"/>
<line x1="403.65" y1="265.70" x2="408.65" y2="265.70" stroke="#231f20" stroke-width="1.0"/>
<line x1="383.40" y1="249.40" x2="383.40" y2="332.50" stroke="#231f20" stroke-width="1.1"/>
<line x1="382.90" y1="332.00" x2="414.80" y2="332.00" stroke="#231f20" stroke-width="1.1"/>
<line x1="399.00" y1="332.00" x2="399.00" y2="334.80" stroke="#231f20" stroke-width="1.0"/>
<line x1="379.60" y1="252.40" x2="383.40" y2="252.40" stroke="#231f20" stroke-width="1.0"/>
<text x="372.80" y="255.45" font-size="8.5" fill="#231f20" style="stroke:#231f20;stroke-width:0.16px" textLength="4.30" lengthAdjust="spacingAndGlyphs">4</text>
<line x1="379.60" y1="272.70" x2="383.40" y2="272.70" stroke="#231f20" stroke-width="1.0"/>
<text x="372.80" y="275.75" font-size="8.5" fill="#231f20" style="stroke:#231f20;stroke-width:0.16px" textLength="4.30" lengthAdjust="spacingAndGlyphs">3</text>
<line x1="379.60" y1="292.40" x2="383.40" y2="292.40" stroke="#231f20" stroke-width="1.0"/>
<text x="372.80" y="295.45" font-size="8.5" fill="#231f20" style="stroke:#231f20;stroke-width:0.16px" textLength="4.30" lengthAdjust="spacingAndGlyphs">2</text>
<line x1="379.60" y1="312.70" x2="383.40" y2="312.70" stroke="#231f20" stroke-width="1.0"/>
<text x="372.80" y="315.75" font-size="8.5" fill="#231f20" style="stroke:#231f20;stroke-width:0.16px" textLength="4.30" lengthAdjust="spacingAndGlyphs">1</text>
<line x1="379.60" y1="332.00" x2="383.40" y2="332.00" stroke="#231f20" stroke-width="1.0"/>
<text x="372.80" y="335.05" font-size="8.5" fill="#231f20" style="stroke:#231f20;stroke-width:0.16px" textLength="4.30" lengthAdjust="spacingAndGlyphs">0</text>
<line x1="391.50" y1="255.50" x2="405.90" y2="255.50" stroke="#231f20" stroke-width="1.15"/>
<text x="395.20" y="255.90" font-size="8.0" fill="#231f20" style="stroke:#231f20;stroke-width:0.16px" textLength="7.00" lengthAdjust="spacingAndGlyphs">**</text>
<text x="462.35" y="243.10" font-size="10.4" fill="#231f20" style="stroke:#231f20;stroke-width:0.04px" textLength="26.90" lengthAdjust="spacingAndGlyphs">Abcg1</text>
<text x="0" y="0" font-size="10.8" fill="#231f20" textLength="89.00" lengthAdjust="spacingAndGlyphs" text-anchor="start" transform="translate(440.30 334.80) rotate(-90)">Relative mRNA level</text>
<rect x="463.00" y="299.90" width="11.00" height="32.10" fill="#a33444" stroke="#951f33" stroke-width="0.6"/>
<rect x="477.00" y="268.50" width="11.60" height="63.50" fill="#4e6385" stroke="#405a80" stroke-width="0.6"/>
<line x1="468.50" y1="299.90" x2="468.50" y2="292.40" stroke="#231f20" stroke-width="1.0"/>
<line x1="466.00" y1="292.40" x2="471.00" y2="292.40" stroke="#231f20" stroke-width="1.0"/>
<line x1="482.80" y1="268.50" x2="482.80" y2="261.00" stroke="#231f20" stroke-width="1.0"/>
<line x1="480.30" y1="261.00" x2="485.30" y2="261.00" stroke="#231f20" stroke-width="1.0"/>
<line x1="459.50" y1="249.40" x2="459.50" y2="332.50" stroke="#231f20" stroke-width="1.1"/>
<line x1="459.00" y1="332.00" x2="489.80" y2="332.00" stroke="#231f20" stroke-width="1.1"/>
<line x1="475.30" y1="332.00" x2="475.30" y2="334.80" stroke="#231f20" stroke-width="1.0"/>
<line x1="455.70" y1="252.40" x2="459.50" y2="252.40" stroke="#231f20" stroke-width="1.0"/>
<text x="442.25" y="255.45" font-size="8.5" fill="#231f20" style="stroke:#231f20;stroke-width:0.16px" textLength="10.75" lengthAdjust="spacingAndGlyphs">2.5</text>
<line x1="455.70" y1="268.50" x2="459.50" y2="268.50" stroke="#231f20" stroke-width="1.0"/>
<text x="442.25" y="271.55" font-size="8.5" fill="#231f20" style="stroke:#231f20;stroke-width:0.16px" textLength="10.75" lengthAdjust="spacingAndGlyphs">2.0</text>
<line x1="455.70" y1="284.30" x2="459.50" y2="284.30" stroke="#231f20" stroke-width="1.0"/>
<text x="442.25" y="287.35" font-size="8.5" fill="#231f20" style="stroke:#231f20;stroke-width:0.16px" textLength="10.75" lengthAdjust="spacingAndGlyphs">1.5</text>
<line x1="455.70" y1="300.10" x2="459.50" y2="300.10" stroke="#231f20" stroke-width="1.0"/>
<text x="442.25" y="303.15" font-size="8.5" fill="#231f20" style="stroke:#231f20;stroke-width:0.16px" textLength="10.75" lengthAdjust="spacingAndGlyphs">1.0</text>
<line x1="455.70" y1="316.40" x2="459.50" y2="316.40" stroke="#231f20" stroke-width="1.0"/>
<text x="442.25" y="319.45" font-size="8.5" fill="#231f20" style="stroke:#231f20;stroke-width:0.16px" textLength="10.75" lengthAdjust="spacingAndGlyphs">0.5</text>
<line x1="455.70" y1="332.00" x2="459.50" y2="332.00" stroke="#231f20" stroke-width="1.0"/>
<text x="442.25" y="335.05" font-size="8.5" fill="#231f20" style="stroke:#231f20;stroke-width:0.16px" textLength="10.75" lengthAdjust="spacingAndGlyphs">0.0</text>
<line x1="468.40" y1="255.50" x2="482.80" y2="255.50" stroke="#231f20" stroke-width="1.15"/>
<text x="472.10" y="255.90" font-size="8.0" fill="#231f20" style="stroke:#231f20;stroke-width:0.16px" textLength="7.00" lengthAdjust="spacingAndGlyphs">**</text>
<rect x="354.00" y="348.60" width="10.80" height="7.60" fill="#a33444"/>
<text x="368.30" y="355.40" font-size="8.0" fill="#231f20" style="stroke:#231f20;stroke-width:0.16px" textLength="25.60" lengthAdjust="spacingAndGlyphs">Control</text>
<rect x="405.30" y="348.60" width="10.60" height="7.60" fill="#4e6385"/>
<text x="419.3" y="355.4" font-size="8.0" fill="#231f20" textLength="65.3" lengthAdjust="spacingAndGlyphs">Vav-iCre<tspan font-size="4.8" dy="-3">+</tspan><tspan dy="3">, NCoR1</tspan><tspan font-size="4.6" dy="-3.2">f/f</tspan></text>
<text x="202.40" y="370.60" font-size="11.0" fill="#231f20" style="stroke:#231f20;stroke-width:0.04px" textLength="9.80" lengthAdjust="spacingAndGlyphs">D</text>
<text x="0" y="0" font-size="10.8" fill="#231f20" textLength="89.00" lengthAdjust="spacingAndGlyphs" text-anchor="start" transform="translate(212.30 461.70) rotate(-90)">Relative mRNA level</text>
<line x1="237.60" y1="376.00" x2="237.60" y2="459.00" stroke="#231f20" stroke-width="1.1"/>
<line x1="237.10" y1="458.50" x2="512.00" y2="458.50" stroke="#231f20" stroke-width="1.1"/>
<line x1="234.10" y1="379.00" x2="237.60" y2="379.00" stroke="#231f20" stroke-width="1.0"/>
<text x="219.60" y="382.05" font-size="8.1" fill="#231f20" style="stroke:#231f20;stroke-width:0.16px" textLength="10.40" lengthAdjust="spacingAndGlyphs">1.5</text>
<line x1="234.10" y1="405.50" x2="237.60" y2="405.50" stroke="#231f20" stroke-width="1.0"/>
<text x="219.60" y="408.55" font-size="8.1" fill="#231f20" style="stroke:#231f20;stroke-width:0.16px" textLength="10.40" lengthAdjust="spacingAndGlyphs">1.0</text>
<line x1="234.10" y1="432.00" x2="237.60" y2="432.00" stroke="#231f20" stroke-width="1.0"/>
<text x="219.60" y="435.05" font-size="8.1" fill="#231f20" style="stroke:#231f20;stroke-width:0.16px" textLength="10.40" lengthAdjust="spacingAndGlyphs">0.5</text>
<line x1="234.10" y1="458.50" x2="237.60" y2="458.50" stroke="#231f20" stroke-width="1.0"/>
<text x="219.60" y="461.55" font-size="8.1" fill="#231f20" style="stroke:#231f20;stroke-width:0.16px" textLength="10.40" lengthAdjust="spacingAndGlyphs">0.0</text>
<line x1="247.70" y1="458.50" x2="247.70" y2="461.50" stroke="#231f20" stroke-width="1.0"/>
<rect x="240.80" y="405.50" width="6.20" height="53.00" fill="#a33444" stroke="#951f33" stroke-width="0.6"/>
<rect x="249.00" y="404.44" width="6.10" height="54.06" fill="#4e6385" stroke="#405a80" stroke-width="0.6"/>
<line x1="242.10" y1="405.20" x2="245.70" y2="405.20" stroke="#231f20" stroke-width="0.8"/>
<line x1="250.25" y1="404.14" x2="253.85" y2="404.14" stroke="#231f20" stroke-width="0.8"/>
<text x="-21.01" y="0" font-size="7.9" fill="#231f20" textLength="21.01" lengthAdjust="spacingAndGlyphs" transform="translate(250.30 470.40) rotate(-45)">Runx1</text>
<line x1="268.70" y1="458.50" x2="268.70" y2="461.50" stroke="#231f20" stroke-width="1.0"/>
<rect x="261.80" y="405.50" width="6.20" height="53.00" fill="#a33444" stroke="#951f33" stroke-width="0.6"/>
<rect x="270.00" y="409.74" width="6.10" height="48.76" fill="#4e6385" stroke="#405a80" stroke-width="0.6"/>
<line x1="264.90" y1="405.50" x2="264.90" y2="402.85" stroke="#231f20" stroke-width="1.0"/>
<line x1="263.10" y1="402.85" x2="266.70" y2="402.85" stroke="#231f20" stroke-width="1.0"/>
<line x1="273.05" y1="409.74" x2="273.05" y2="406.56" stroke="#231f20" stroke-width="1.0"/>
<line x1="271.25" y1="406.56" x2="274.85" y2="406.56" stroke="#231f20" stroke-width="1.0"/>
<text x="-19.80" y="0" font-size="7.9" fill="#231f20" textLength="19.80" lengthAdjust="spacingAndGlyphs" transform="translate(271.30 470.40) rotate(-45)">Gata2</text>
<line x1="289.70" y1="458.50" x2="289.70" y2="461.50" stroke="#231f20" stroke-width="1.0"/>
<rect x="282.80" y="405.50" width="6.20" height="53.00" fill="#a33444" stroke="#951f33" stroke-width="0.6"/>
<rect x="291.00" y="409.21" width="6.10" height="49.29" fill="#4e6385" stroke="#405a80" stroke-width="0.6"/>
<line x1="284.10" y1="405.20" x2="287.70" y2="405.20" stroke="#231f20" stroke-width="0.8"/>
<line x1="292.25" y1="408.91" x2="295.85" y2="408.91" stroke="#231f20" stroke-width="0.8"/>
<text x="-19.80" y="0" font-size="7.9" fill="#231f20" textLength="19.80" lengthAdjust="spacingAndGlyphs" transform="translate(292.30 470.40) rotate(-45)">Gata3</text>
<line x1="310.70" y1="458.50" x2="310.70" y2="461.50" stroke="#231f20" stroke-width="1.0"/>
<rect x="303.80" y="405.50" width="6.20" height="53.00" fill="#a33444" stroke="#951f33" stroke-width="0.6"/>
<rect x="312.00" y="402.32" width="6.10" height="56.18" fill="#4e6385" stroke="#405a80" stroke-width="0.6"/>
<line x1="305.10" y1="405.20" x2="308.70" y2="405.20" stroke="#231f20" stroke-width="0.8"/>
<line x1="313.25" y1="402.02" x2="316.85" y2="402.02" stroke="#231f20" stroke-width="0.8"/>
<text x="-16.57" y="0" font-size="7.9" fill="#231f20" textLength="16.57" lengthAdjust="spacingAndGlyphs" transform="translate(313.30 470.40) rotate(-45)">Pbx1</text>
<line x1="331.70" y1="458.50" x2="331.70" y2="461.50" stroke="#231f20" stroke-width="1.0"/>
<rect x="324.80" y="405.50" width="6.20" height="53.00" fill="#a33444" stroke="#951f33" stroke-width="0.6"/>
<rect x="333.00" y="405.50" width="6.10" height="53.00" fill="#4e6385" stroke="#405a80" stroke-width="0.6"/>
<line x1="327.90" y1="405.50" x2="327.90" y2="403.38" stroke="#231f20" stroke-width="1.0"/>
<line x1="326.10" y1="403.38" x2="329.70" y2="403.38" stroke="#231f20" stroke-width="1.0"/>
<line x1="334.25" y1="405.20" x2="337.85" y2="405.20" stroke="#231f20" stroke-width="0.8"/>
<text x="-21.58" y="0" font-size="7.9" fill="#231f20" textLength="21.58" lengthAdjust="spacingAndGlyphs" transform="translate(334.30 470.40) rotate(-45)">Cebpα</text>
<line x1="352.70" y1="458.50" x2="352.70" y2="461.50" stroke="#231f20" stroke-width="1.0"/>
<rect x="345.80" y="405.50" width="6.20" height="53.00" fill="#a33444" stroke="#951f33" stroke-width="0.6"/>
<rect x="354.00" y="410.27" width="6.10" height="48.23" fill="#4e6385" stroke="#405a80" stroke-width="0.6"/>
<line x1="348.90" y1="405.50" x2="348.90" y2="401.79" stroke="#231f20" stroke-width="1.0"/>
<line x1="347.10" y1="401.79" x2="350.70" y2="401.79" stroke="#231f20" stroke-width="1.0"/>
<line x1="357.05" y1="410.27" x2="357.05" y2="407.62" stroke="#231f20" stroke-width="1.0"/>
<line x1="355.25" y1="407.62" x2="358.85" y2="407.62" stroke="#231f20" stroke-width="1.0"/>
<text x="-20.20" y="0" font-size="7.9" fill="#231f20" textLength="20.20" lengthAdjust="spacingAndGlyphs" transform="translate(355.30 470.40) rotate(-45)">Foxo1</text>
<line x1="373.70" y1="458.50" x2="373.70" y2="461.50" stroke="#231f20" stroke-width="1.0"/>
<rect x="366.80" y="405.50" width="6.20" height="53.00" fill="#a33444" stroke="#951f33" stroke-width="0.6"/>
<rect x="375.00" y="404.44" width="6.10" height="54.06" fill="#4e6385" stroke="#405a80" stroke-width="0.6"/>
<line x1="368.10" y1="405.20" x2="371.70" y2="405.20" stroke="#231f20" stroke-width="0.8"/>
<line x1="376.25" y1="404.14" x2="379.85" y2="404.14" stroke="#231f20" stroke-width="0.8"/>
<text x="-18.18" y="0" font-size="7.9" fill="#231f20" textLength="18.18" lengthAdjust="spacingAndGlyphs" transform="translate(376.30 470.40) rotate(-45)">Lmo2</text>
<line x1="394.70" y1="458.50" x2="394.70" y2="461.50" stroke="#231f20" stroke-width="1.0"/>
<line x1="415.70" y1="458.50" x2="415.70" y2="461.50" stroke="#231f20" stroke-width="1.0"/>
<rect x="408.80" y="405.50" width="6.20" height="53.00" fill="#a33444" stroke="#951f33" stroke-width="0.6"/>
<rect x="417.00" y="427.76" width="6.10" height="30.74" fill="#4e6385" stroke="#405a80" stroke-width="0.6"/>
<line x1="411.90" y1="405.50" x2="411.90" y2="403.38" stroke="#231f20" stroke-width="1.0"/>
<line x1="410.10" y1="403.38" x2="413.70" y2="403.38" stroke="#231f20" stroke-width="1.0"/>
<line x1="420.05" y1="427.76" x2="420.05" y2="426.17" stroke="#231f20" stroke-width="1.0"/>
<line x1="418.25" y1="426.17" x2="421.85" y2="426.17" stroke="#231f20" stroke-width="1.0"/>
<text x="-17.38" y="0" font-size="7.9" fill="#231f20" textLength="17.38" lengthAdjust="spacingAndGlyphs" transform="translate(418.30 470.40) rotate(-45)">Rag1</text>
<line x1="436.70" y1="458.50" x2="436.70" y2="461.50" stroke="#231f20" stroke-width="1.0"/>
<rect x="429.80" y="405.50" width="6.20" height="53.00" fill="#a33444" stroke="#951f33" stroke-width="0.6"/>
<rect x="438.00" y="426.44" width="6.10" height="32.06" fill="#4e6385" stroke="#405a80" stroke-width="0.6"/>
<line x1="432.90" y1="405.50" x2="432.90" y2="404.97" stroke="#231f20" stroke-width="1.0"/>
<line x1="431.10" y1="404.97" x2="434.70" y2="404.97" stroke="#231f20" stroke-width="1.0"/>
<line x1="441.05" y1="426.44" x2="441.05" y2="421.93" stroke="#231f20" stroke-width="1.0"/>
<line x1="439.25" y1="421.93" x2="442.85" y2="421.93" stroke="#231f20" stroke-width="1.0"/>
<text x="-17.38" y="0" font-size="7.9" fill="#231f20" textLength="17.38" lengthAdjust="spacingAndGlyphs" transform="translate(439.30 470.40) rotate(-45)">Rag2</text>
<line x1="457.70" y1="458.50" x2="457.70" y2="461.50" stroke="#231f20" stroke-width="1.0"/>
<rect x="450.80" y="405.50" width="6.20" height="53.00" fill="#a33444" stroke="#951f33" stroke-width="0.6"/>
<rect x="459.00" y="438.52" width="6.10" height="19.98" fill="#4e6385" stroke="#405a80" stroke-width="0.6"/>
<line x1="453.90" y1="405.50" x2="453.90" y2="402.32" stroke="#231f20" stroke-width="1.0"/>
<line x1="452.10" y1="402.32" x2="455.70" y2="402.32" stroke="#231f20" stroke-width="1.0"/>
<line x1="462.05" y1="438.52" x2="462.05" y2="436.24" stroke="#231f20" stroke-width="1.0"/>
<line x1="460.25" y1="436.24" x2="463.85" y2="436.24" stroke="#231f20" stroke-width="1.0"/>
<text x="-18.18" y="0" font-size="7.9" fill="#231f20" textLength="18.18" lengthAdjust="spacingAndGlyphs" transform="translate(460.30 470.40) rotate(-45)">Meg3</text>
<line x1="478.70" y1="458.50" x2="478.70" y2="461.50" stroke="#231f20" stroke-width="1.0"/>
<rect x="471.80" y="405.50" width="6.20" height="53.00" fill="#a33444" stroke="#951f33" stroke-width="0.6"/>
<rect x="480.00" y="425.64" width="6.10" height="32.86" fill="#4e6385" stroke="#405a80" stroke-width="0.6"/>
<line x1="473.10" y1="405.20" x2="476.70" y2="405.20" stroke="#231f20" stroke-width="0.8"/>
<line x1="481.25" y1="425.34" x2="484.85" y2="425.34" stroke="#231f20" stroke-width="0.8"/>
<text x="-13.73" y="0" font-size="7.9" fill="#231f20" textLength="13.73" lengthAdjust="spacingAndGlyphs" transform="translate(481.30 470.40) rotate(-45)">Flk2</text>
<line x1="499.70" y1="458.50" x2="499.70" y2="461.50" stroke="#231f20" stroke-width="1.0"/>
<rect x="492.80" y="405.50" width="6.20" height="53.00" fill="#a33444" stroke="#951f33" stroke-width="0.6"/>
<rect x="501.00" y="426.44" width="6.10" height="32.06" fill="#4e6385" stroke="#405a80" stroke-width="0.6"/>
<line x1="495.90" y1="405.50" x2="495.90" y2="404.44" stroke="#231f20" stroke-width="1.0"/>
<line x1="494.10" y1="404.44" x2="497.70" y2="404.44" stroke="#231f20" stroke-width="1.0"/>
<line x1="504.05" y1="426.44" x2="504.05" y2="421.40" stroke="#231f20" stroke-width="1.0"/>
<line x1="502.25" y1="421.40" x2="505.85" y2="421.40" stroke="#231f20" stroke-width="1.0"/>
<text x="-20.61" y="0" font-size="7.9" fill="#231f20" textLength="20.61" lengthAdjust="spacingAndGlyphs" transform="translate(502.30 470.40) rotate(-45)">Zap70</text>
<line x1="240.80" y1="387.60" x2="381.40" y2="387.60" stroke="#231f20" stroke-width="0.9"/>
<text x="287.80" y="381.90" font-size="7.6" fill="#231f20" style="stroke:#231f20;stroke-width:0.16px" textLength="46.20" lengthAdjust="spacingAndGlyphs">Multipotency</text>
<line x1="408.90" y1="387.60" x2="506.90" y2="387.60" stroke="#231f20" stroke-width="0.9"/>
<text x="432.80" y="381.90" font-size="7.6" fill="#231f20" style="stroke:#231f20;stroke-width:0.16px" textLength="50.20" lengthAdjust="spacingAndGlyphs">Differentiation</text>
<line x1="411.90" y1="400.30" x2="420.00" y2="400.30" stroke="#231f20" stroke-width="1.1"/>
<text x="412.35" y="399.30" font-size="8.0" fill="#231f20" style="stroke:#231f20;stroke-width:0.16px" textLength="7.20" lengthAdjust="spacingAndGlyphs">**</text>
<line x1="433.10" y1="401.80" x2="441.20" y2="401.80" stroke="#231f20" stroke-width="1.1"/>
<text x="435.35" y="400.80" font-size="8.0" fill="#231f20" style="stroke:#231f20;stroke-width:0.16px" textLength="3.60" lengthAdjust="spacingAndGlyphs">*</text>
<line x1="453.80" y1="397.50" x2="462.10" y2="397.50" stroke="#231f20" stroke-width="1.1"/>
<text x="454.35" y="396.50" font-size="8.0" fill="#231f20" style="stroke:#231f20;stroke-width:0.16px" textLength="7.20" lengthAdjust="spacingAndGlyphs">**</text>
<line x1="474.80" y1="401.80" x2="482.80" y2="401.80" stroke="#231f20" stroke-width="1.1"/>
<text x="473.40" y="400.80" font-size="8.0" fill="#231f20" style="stroke:#231f20;stroke-width:0.16px" textLength="10.80" lengthAdjust="spacingAndGlyphs">***</text>
<line x1="495.90" y1="400.90" x2="503.90" y2="400.90" stroke="#231f20" stroke-width="1.1"/>
<text x="498.10" y="399.90" font-size="8.0" fill="#231f20" style="stroke:#231f20;stroke-width:0.16px" textLength="3.60" lengthAdjust="spacingAndGlyphs">*</text>
<rect x="353.80" y="499.80" width="10.80" height="7.40" fill="#a33444"/>
<text x="368.30" y="506.60" font-size="8.0" fill="#231f20" style="stroke:#231f20;stroke-width:0.16px" textLength="26.50" lengthAdjust="spacingAndGlyphs">Control</text>
<rect x="405.20" y="499.80" width="10.40" height="7.40" fill="#4e6385"/>
<text x="419.3" y="506.6" font-size="8.0" fill="#231f20" textLength="65.3" lengthAdjust="spacingAndGlyphs">Vav-iCre<tspan font-size="4.8" dy="-3">+</tspan><tspan dy="3">, NCoR1</tspan><tspan font-size="4.6" dy="-3.2">f/f</tspan></text>
<rect x="0.75" y="0.75" width="518.5" height="514.5" fill="none" stroke="#555" stroke-width="1.5"/>
</svg></body></html>
